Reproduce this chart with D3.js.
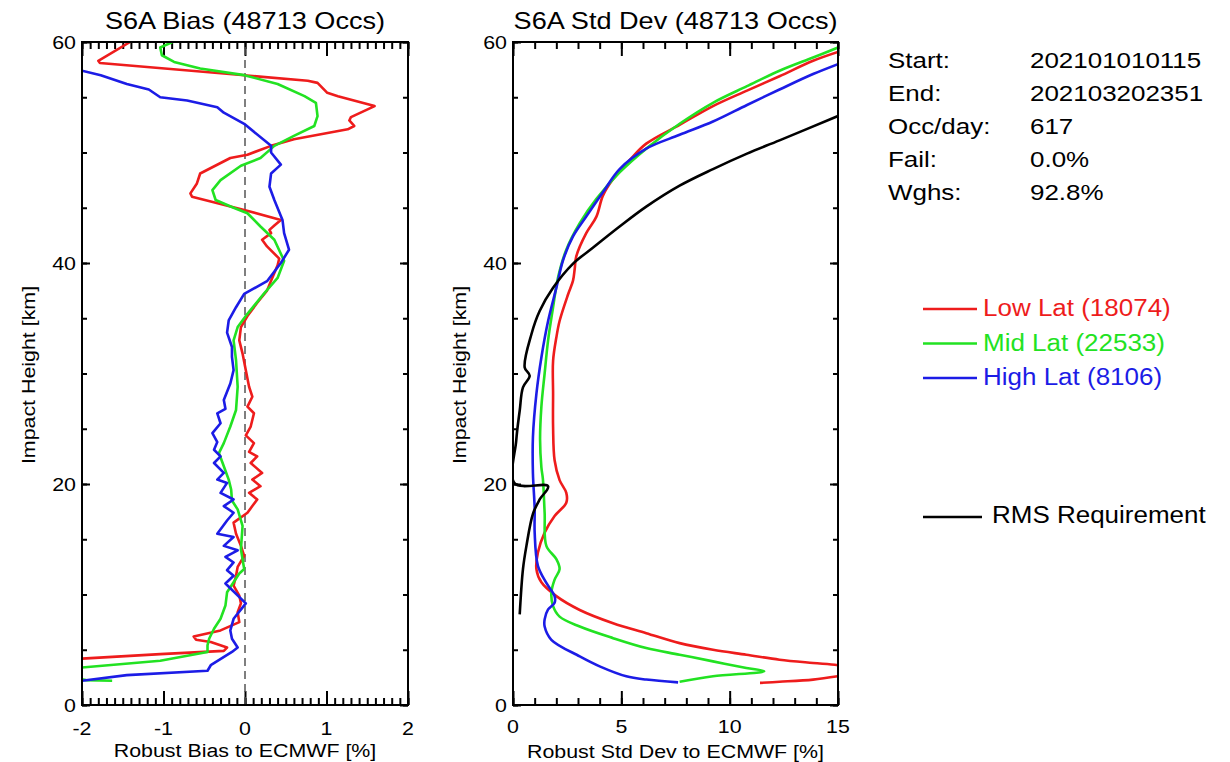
<!DOCTYPE html>
<html>
<head>
<meta charset="utf-8">
<script src="https://cdn.jsdelivr.net/npm/d3@7"></script>
<style>
  body { margin: 0; background: #fff; }
  svg { display: block; }
</style>
</head>
<body>
<script>
// Profiles are [value, impact height km]
const biasLow = [[-1.41,60.0],[-1.80,58.3],[-1.78,58.1],[0.77,56.5],[0.89,56.3],[1.01,55.4],[1.14,55.1],[1.59,54.2],[1.30,53.2],[1.28,52.9],[1.34,52.4],[1.26,52.1],[0.60,51.2],[0.32,50.6],[0.03,49.8],[-0.18,49.5],[-0.55,48.1],[-0.59,47.2],[-0.67,46.3],[-0.65,46.0],[-0.01,44.8],[0.44,43.9],[0.36,43.4],[0.30,43.0],[0.32,42.7],[0.21,42.1],[0.27,41.5],[0.42,40.4],[0.40,39.8],[0.32,38.4],[0.27,37.5],[0.15,36.4],[0.03,35.2],[-0.05,34.2],[-0.07,33.0],[-0.03,31.8],[0.01,30.3],[0.05,28.8],[0.09,27.9],[0.03,27.0],[0.11,26.4],[0.07,25.2],[0.01,24.4],[0.11,23.7],[0.05,22.9],[0.15,22.5],[0.07,21.9],[0.21,21.0],[0.09,20.4],[0.19,19.8],[0.05,19.2],[0.15,18.6],[0.09,18.0],[0.03,17.4],[-0.14,16.5],[-0.11,15.5],[-0.05,14.4],[-0.01,13.5],[-0.09,12.5],[-0.11,11.7],[-0.14,10.8],[-0.07,9.9],[-0.05,9.2],[-0.09,8.4],[-0.07,7.5],[-0.30,6.75],[-0.63,6.2],[-0.60,5.9],[-0.42,5.7],[-0.22,5.2],[-0.26,4.9],[-1.04,4.6],[-2.0,4.2],[-2.6,4.0]];
const biasMid = [[-0.89,60.0],[-1.04,59.5],[-1.02,58.8],[-0.87,58.2],[-0.55,57.6],[-0.01,57.0],[0.40,56.2],[0.73,55.1],[0.87,54.5],[0.89,53.3],[0.85,52.4],[0.60,51.5],[0.36,50.6],[0.19,49.5],[-0.05,48.8],[-0.30,47.5],[-0.40,46.6],[-0.36,45.7],[-0.14,45.0],[0.03,44.5],[0.19,43.3],[0.36,42.1],[0.48,40.2],[0.40,38.65],[0.23,37.2],[0.03,35.4],[-0.09,34.2],[-0.14,33.0],[-0.11,31.2],[-0.09,28.8],[-0.11,26.7],[-0.18,25.2],[-0.26,23.7],[-0.32,22.8],[-0.26,21.6],[-0.20,20.4],[-0.17,19.5],[-0.16,18.5],[-0.09,17.7],[-0.03,16.2],[-0.05,14.1],[-0.01,12.3],[-0.07,11.9],[-0.22,10.2],[-0.24,9.0],[-0.30,7.8],[-0.38,6.9],[-0.44,6.0],[-0.46,5.4],[-0.46,4.8],[-1.04,4.0],[-2.0,3.4],[-2.5,3.0],[-1.95,2.25],[-1.63,2.2]];
const biasHigh = [[-2.5,58.5],[-2.0,57.4],[-1.77,57.0],[-1.45,56.2],[-1.18,55.7],[-1.04,55.0],[-0.71,54.7],[-0.34,54.1],[-0.26,53.6],[-0.01,52.6],[0.32,50.6],[0.32,50.0],[0.44,48.9],[0.32,48.1],[0.30,46.9],[0.36,45.7],[0.46,43.9],[0.48,42.7],[0.54,41.2],[0.44,40.0],[0.27,38.35],[-0.01,37.2],[-0.11,36.0],[-0.20,34.8],[-0.22,33.7],[-0.16,32.4],[-0.16,31.5],[-0.14,30.3],[-0.18,29.1],[-0.26,27.6],[-0.24,26.8],[-0.34,26.4],[-0.30,25.5],[-0.40,24.6],[-0.34,23.8],[-0.38,23.1],[-0.30,22.5],[-0.38,21.9],[-0.26,21.0],[-0.34,20.4],[-0.22,20.1],[-0.30,19.2],[-0.14,18.6],[-0.26,18.0],[-0.14,17.4],[-0.22,16.7],[-0.34,15.5],[-0.14,15.2],[-0.26,14.4],[-0.09,14.0],[-0.24,13.4],[-0.14,12.9],[-0.22,12.2],[-0.14,11.7],[-0.24,11.0],[0.01,9.2],[-0.14,7.8],[-0.18,6.75],[-0.16,6.0],[-0.09,5.2],[-0.16,4.8],[-0.42,3.6],[-0.46,3.1],[-1.45,2.7],[-2.0,2.2],[-2.5,2.0]];

const stdLow = [[15.0,59.1],[13.85,58.3],[12.3,56.9],[10.8,55.6],[9.23,54.2],[7.69,52.5],[6.15,50.8],[5.38,49.3],[4.62,47.6],[4.15,46.1],[3.85,44.2],[3.38,42.7],[2.92,40.6],[2.85,39.5],[2.77,38.4],[2.54,37.15],[2.15,34.75],[2.0,33.25],[1.85,31.15],[1.85,28.15],[1.85,25.15],[1.92,22.15],[2.15,20.35],[2.46,19.2],[2.46,18.3],[1.92,17.1],[1.46,15.6],[1.15,13.8],[1.08,12.3],[1.31,11.1],[2.0,9.85],[3.08,8.6],[4.62,7.4],[6.15,6.5],[7.69,5.6],[9.23,5.0],[10.77,4.55],[12.3,4.1],[13.85,3.8],[15.0,3.6],[16.5,3.1],[15.0,2.6],[13.85,2.3],[12.3,2.1],[11.4,2.0]];
const stdMid = [[15.0,59.5],[13.85,58.6],[12.3,57.4],[10.8,56.0],[9.23,54.5],[7.69,52.6],[6.15,50.35],[4.92,48.2],[3.85,45.8],[3.08,43.6],[2.46,41.2],[2.08,38.7],[1.85,36.0],[1.62,33.0],[1.46,30.0],[1.31,27.0],[1.25,24.0],[1.31,21.5],[1.38,20.45],[1.46,17.4],[1.54,14.4],[2.0,13.2],[2.15,12.3],[1.92,11.35],[1.77,10.15],[1.85,8.95],[2.15,8.0],[3.08,7.1],[4.62,6.05],[6.15,5.15],[7.69,4.55],[9.23,3.95],[10.77,3.35],[11.6,3.05],[9.23,2.6],[7.69,2.1]];
const stdHigh = [[15.0,58.0],[13.85,57.1],[12.3,55.7],[10.8,54.3],[9.23,52.8],[7.69,51.6],[6.15,50.35],[4.92,48.5],[4.15,46.4],[3.38,44.2],[2.77,42.4],[2.31,40.25],[2.0,37.75],[1.62,34.75],[1.31,31.45],[1.08,28.15],[0.92,24.25],[0.92,20.95],[1.0,17.8],[1.0,15.6],[1.15,12.6],[1.54,11.05],[1.92,9.85],[1.92,9.25],[1.62,8.65],[1.46,7.75],[1.46,7.1],[1.77,5.9],[3.08,4.4],[4.0,3.5],[5.23,2.6],[6.15,2.3],[7.62,2.05]];
const rmsReq = [[15.0,53.3],[12.3,51.1],[10.8,49.9],[9.23,48.5],[7.69,47.0],[6.15,45.1],[4.92,43.3],[3.7,41.4],[2.75,39.9],[1.85,37.75],[1.23,35.65],[0.85,33.55],[0.54,30.55],[0.77,29.8],[0.46,28.75],[0.31,26.65],[0.15,23.95],[0.08,20.05],[1.62,19.8],[1.23,18.6],[0.92,17.3],[0.62,14.4],[0.46,12.3],[0.31,8.2]];

const seriesNames = ["Low Lat (18074)", "Mid Lat (22533)", "High Lat (8106)"];
const seriesColors = ["#ee1c1c", "#22e222", "#1c1ce6"];
const rmsName = "RMS Requirement";

const infoLabels = ["Start:", "End:", "Occ/day:", "Fail:", "Wghs:"];
const infoValues = ["202101010115", "202103202351", "617", "0.0%", "92.8%"];

const heightTicks = [0, 20, 40, 60];
const biasTicks = [-2, -1, 0, 1, 2];
const stdTicks = [0, 5, 10, 15];

const font = "'Liberation Sans', Arial, Helvetica, sans-serif";

const svg = d3.select("body").append("svg")
    .attr("width", 1230)
    .attr("height", 762);

function addText(g, x, y, str, size, anchor, sx, rot, color) {
    // Text is a bit wider than the font, so stretch it horizontally
    g.append("text")
        .attr("transform", `translate(${x},${y}) rotate(${rot || 0}) scale(${sx},1)`)
        .attr("font-family", font)
        .style("font-size", size + "px")
        .attr("text-anchor", anchor)
        .attr("fill", color || "black")
        .text(str);
}

function drawPanel(opts) {
    const x = d3.scaleLinear().domain(opts.xdomain).range([opts.left, opts.right]);
    const y = d3.scaleLinear().domain([0, 60]).range([705, 42]);
    const g = svg.append("g");

    // Ticks on all four sides, pointing inward
    const xMinor = d3.range(opts.xdomain[0], opts.xdomain[1] + 1e-9, opts.xminor);
    const yMinor = d3.range(0, 61, 5);
    [[d3.axisBottom, 705], [d3.axisTop, 42]].forEach(([ax, ty]) => {
        g.append("g").attr("transform", `translate(0,${ty})`)
            .call(ax(x).tickValues(xMinor).tickSizeInner(-7).tickSizeOuter(0).tickFormat(""));
        g.append("g").attr("transform", `translate(0,${ty})`)
            .call(ax(x).tickValues(opts.xticks).tickSizeInner(-14).tickSizeOuter(0).tickFormat(""));
    });
    [[d3.axisLeft, opts.left], [d3.axisRight, opts.right]].forEach(([ax, tx]) => {
        g.append("g").attr("transform", `translate(${tx},0)`)
            .call(ax(y).tickValues(yMinor).tickSizeInner(-5).tickSizeOuter(0).tickFormat(""));
        g.append("g").attr("transform", `translate(${tx},0)`)
            .call(ax(y).tickValues(heightTicks).tickSizeInner(-8).tickSizeOuter(0).tickFormat(""));
    });
    g.selectAll(".domain").remove();
    g.selectAll(".tick line").attr("stroke", "black").attr("stroke-width", 2);

    // Clip the profiles to the frame
    svg.append("clipPath").attr("id", opts.id)
        .append("rect")
        .attr("x", opts.left).attr("y", 42)
        .attr("width", opts.right - opts.left).attr("height", 705 - 42);

    const lines = svg.append("g").attr("clip-path", `url(#${opts.id})`);
    if (opts.zeroLine) {
        lines.append("line")
            .attr("x1", x(0)).attr("x2", x(0))
            .attr("y1", y(0)).attr("y2", y(60))
            .attr("stroke", "#555")
            .attr("stroke-width", 1.5)
            .attr("stroke-dasharray", "8,5");
    }
    const line = d3.line().x(d => x(d[0])).y(d => y(d[1])).curve(opts.curve);
    opts.series.forEach(s => {
        lines.append("path")
            .datum(s.data)
            .attr("fill", "none")
            .attr("stroke", s.color)
            .attr("stroke-width", 2.6)
            .attr("stroke-linejoin", "round")
            .attr("d", line);
    });

    // Frame
    svg.append("rect")
        .attr("x", opts.left).attr("y", 42)
        .attr("width", opts.right - opts.left).attr("height", 705 - 42)
        .attr("fill", "none")
        .attr("stroke", "black")
        .attr("stroke-width", 2);

    // Labels
    opts.xticks.forEach(t => addText(svg, x(t), opts.xlabelY, String(t), 18.6, "middle", 1.15));
    heightTicks.forEach(t => addText(svg, opts.ylabelX, y(t) + 6.5, String(t), 18.6, "end", 1.15));
    addText(svg, (opts.left + opts.right) / 2, 29, opts.title, 24, "middle", 1.13);
    addText(svg, (opts.left + opts.right) / 2, opts.xtitleY, opts.xtitle, 18.6, "middle", 1.15);
    addText(svg, opts.ytitleX, 375, "Impact Height [km]", 18.6, "middle", 1.15, -90);
}

drawPanel({
    id: "clipBias", left: 82, right: 408, xdomain: [-2, 2], xminor: 0.1, xticks: biasTicks,
    xlabelY: 735, ylabelX: 76, xtitleY: 757, ytitleX: 35, curve: d3.curveLinear,
    title: "S6A Bias (48713 Occs)", xtitle: "Robust Bias to ECMWF [%]", zeroLine: true,
    series: [
        { data: biasLow, color: seriesColors[0] },
        { data: biasMid, color: seriesColors[1] },
        { data: biasHigh, color: seriesColors[2] }
    ]
});

drawPanel({
    id: "clipStd", left: 513, right: 838, xdomain: [0, 15], xminor: 1, xticks: stdTicks,
    xlabelY: 733, ylabelX: 507, xtitleY: 758, ytitleX: 466, curve: d3.curveCatmullRom.alpha(0.5),
    title: "S6A Std Dev (48713 Occs)", xtitle: "Robust Std Dev to ECMWF [%]", zeroLine: false,
    series: [
        { data: stdLow, color: seriesColors[0] },
        { data: stdMid, color: seriesColors[1] },
        { data: stdHigh, color: seriesColors[2] },
        { data: rmsReq, color: "black" }
    ]
});

// Info block
infoLabels.forEach((l, i) => {
    addText(svg, 888, 68 + i * 33, l, 22, "start", 1.18);
    addText(svg, 1030, 68 + i * 33, infoValues[i], 22, "start", 1.18);
});

// Legend
seriesNames.forEach((n, i) => {
    const ly = 309 + i * 34.5;
    svg.append("line")
        .attr("x1", 923).attr("x2", 977)
        .attr("y1", ly).attr("y2", ly)
        .attr("stroke", seriesColors[i])
        .attr("stroke-width", 2.5);
    addText(svg, 983, ly + 7, n, 23, "start", 1.13, 0, seriesColors[i]);
});
svg.append("line")
    .attr("x1", 923).attr("x2", 982)
    .attr("y1", 517).attr("y2", 517)
    .attr("stroke", "black")
    .attr("stroke-width", 2.5);
addText(svg, 992, 523, rmsName, 23, "start", 1.13);
</script>
</body>
</html>
